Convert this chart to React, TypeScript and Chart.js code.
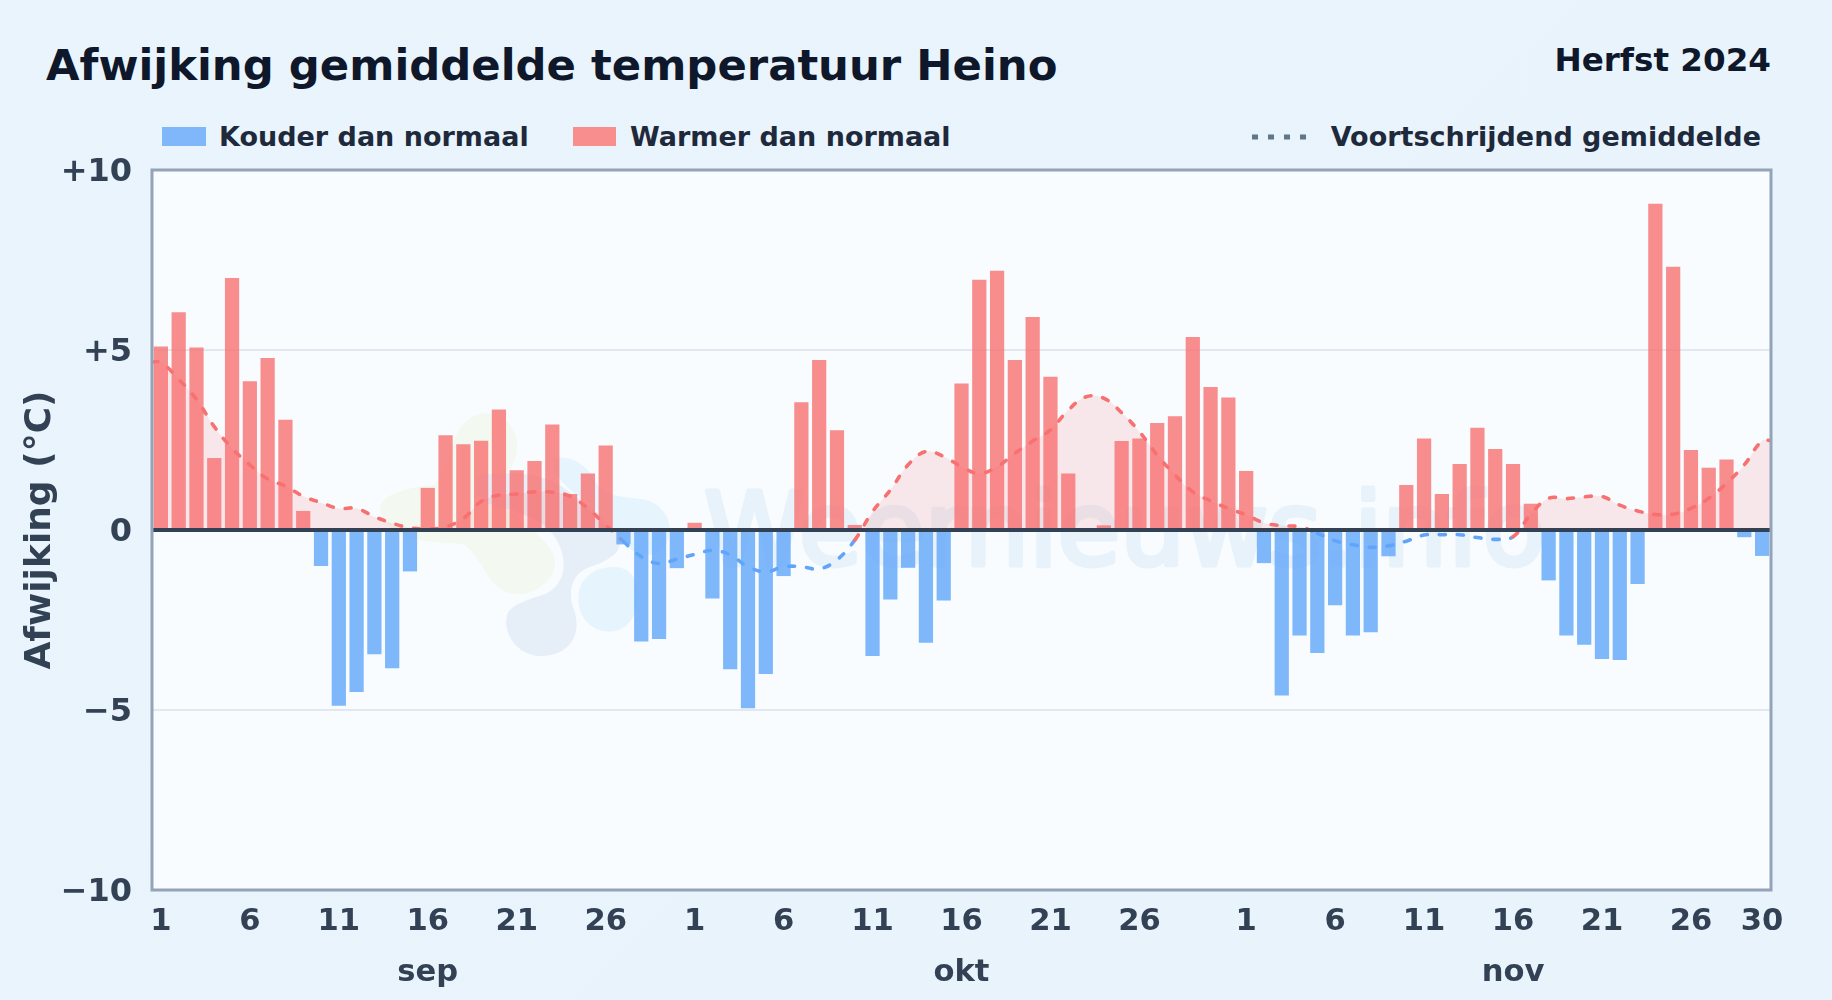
import React, { useEffect, useRef } from "react";
import { Chart, registerables } from "chart.js";

Chart.register(...registerables);

const FONT = '"DejaVu Sans", sans-serif';

const septemberDeviation = [5.1, 6.05, 5.07, 2.0, 7.0, 4.13, 4.78, 3.06, 0.53, -1.0, -4.88, -4.5, -3.45, -3.84, -1.15, 1.17, 2.63, 2.38, 2.48, 3.35, 1.66, 1.92, 2.93, 1.0, 1.57, 2.35, -0.4, -3.1, -3.03, -1.06];
const octoberDeviation = [0.2, -1.9, -3.87, -4.95, -4.0, -1.28, 3.55, 4.72, 2.77, 0.14, -3.5, -1.93, -1.05, -3.13, -1.96, 4.07, 6.95, 7.2, 4.72, 5.92, 4.26, 1.57, 0, 0.13, 2.47, 2.54, 2.97, 3.16, 5.36, 3.97, 3.68];
const novemberDeviation = [1.64, -0.92, -4.6, -2.93, -3.42, -2.09, -2.93, -2.84, -0.73, 1.25, 2.54, 1.0, 1.83, 2.84, 2.25, 1.83, 0.73, -1.4, -2.93, -3.19, -3.58, -3.61, -1.5, 9.06, 7.31, 2.22, 1.73, 1.96, -0.2, -0.72];

const movingAverage = [
  4.66, 4.19, 3.63, 2.87, 2.27, 1.81, 1.42, 1.22, 0.94, 0.76, 0.6, 0.6, 0.37, 0.19, 0.06, 0.03, 0.09, 0.32, 0.79, 0.97, 1.0, 1.06, 1.05, 0.94, 0.6, 0.14, -0.32, -0.74, -0.93, -0.81,
  -0.68, -0.57, -0.69, -1.02, -1.16, -1.02, -1.02, -1.08, -0.83, -0.28, 0.51, 1.11, 1.81, 2.18, 2.04, 1.76, 1.57, 1.76, 2.13, 2.47, 2.78, 3.33, 3.7, 3.66, 3.26, 2.73, 2.08, 1.53, 1.06, 0.81, 0.6,
  0.42, 0.2, 0.12, 0.09, -0.09, -0.3, -0.41, -0.48, -0.44, -0.31, -0.14, -0.13, -0.13, -0.21, -0.26, -0.19, 0.44, 0.88, 0.87, 0.92, 0.93, 0.69, 0.53, 0.43, 0.44, 0.6, 0.88, 1.3, 1.81, 2.48,
];

const monthNames = ["sep", "okt", "nov"];
const monthLengths = [30, 31, 30];
const shownDays = [1, 6, 11, 16, 21, 26];
const yTickLabels: Record<string, string> = { "10": "+10", "5": "+5", "0": "0", "-5": "\u22125", "-10": "\u221210" };

const deviation = [...septemberDeviation, ...octoberDeviation, ...novemberDeviation];
const dayLabels: { day: number; month: number }[] = [];
monthLengths.forEach((len, m) => {
  for (let d = 1; d <= len; d++) dayLabels.push({ day: d, month: m });
});
const categories = dayLabels.map((d) => `${d.day} ${monthNames[d.month]}`);
const colder = deviation.map((v) => (v < 0 ? v : null));
const warmer = deviation.map((v) => (v >= 0 ? v : null));
const avgPoints = [
  { x: -0.5, y: movingAverage[0] },
  ...movingAverage.map((y, x) => ({ x, y })),
  { x: 90.5, y: movingAverage[movingAverage.length - 1] },
];

const RED_LINE = "#f87171";
const BLUE_LINE = "#60a5fa";

function blob(ctx: CanvasRenderingContext2D, d: string, color: string) {
  ctx.fillStyle = color;
  ctx.fill(new Path2D(d));
}

const decorPlugin = {
  id: "decor",
  beforeDraw(chart: any) {
    const { ctx, chartArea: a } = chart;
    ctx.save();
    ctx.fillStyle = "#f8fcff";
    ctx.fillRect(a.left, a.top, a.right - a.left, a.bottom - a.top);
    ctx.restore();
  },
  beforeDatasetsDraw(chart: any) {
    const { ctx } = chart;
    ctx.save();
    ctx.translate(370, 400);
    ctx.scale(1 / 3, 1 / 3);
    blob(ctx, "M30,320 C40,280 120,262 190,255 C250,230 225,70 330,42 C410,30 450,100 440,150 C435,210 390,235 380,270 C385,340 540,400 555,480 C560,540 490,590 430,582 C350,570 340,470 280,432 C200,425 40,430 30,320 Z", "#f3f8f0");
    blob(ctx, "M330,225 C420,215 520,215 590,270 C650,310 740,370 750,420 C755,470 690,490 650,505 C600,530 595,580 612,630 C640,710 590,770 510,768 C440,765 400,700 410,650 C420,610 480,600 530,580 C590,550 590,480 565,430 C530,350 420,330 350,310 C320,290 310,240 330,225 Z", "#e6eff8");
    blob(ctx, "M550,175 C600,165 650,190 680,250 C700,295 780,290 830,300 C890,320 915,380 890,430 C865,480 800,470 775,440 C740,395 700,340 640,300 C590,265 540,220 550,175 Z M680,510 C740,490 790,500 800,560 C810,640 780,690 720,695 C660,695 625,650 625,595 C625,550 650,525 680,510 Z", "#e6f4fd");
    ctx.restore();
    ctx.save();
    ctx.font = `102px ${FONT}`;
    ctx.textBaseline = "alphabetic";
    ctx.fillStyle = "#e8f2fa";
    ctx.strokeStyle = "#e8f2fa";
    ctx.lineWidth = 5;
    ctx.lineJoin = "round";
    ctx.strokeText("Weernieuws.info", 704, 565);
    ctx.fillText("Weernieuws.info", 704, 565);
    ctx.restore();
  },
  afterDatasetsDraw(chart: any) {
    const { ctx, chartArea: a, scales } = chart;
    const y0 = scales.y.getPixelForValue(0);
    ctx.save();
    ctx.strokeStyle = "#334155";
    ctx.lineWidth = 4;
    ctx.beginPath();
    ctx.moveTo(a.left, y0);
    ctx.lineTo(a.right, y0);
    ctx.stroke();
    ctx.strokeStyle = "#94a3b8";
    ctx.lineWidth = 3;
    ctx.strokeRect(a.left, a.top, a.right - a.left, a.bottom - a.top);
    ctx.restore();
  },
};

const textStyle = (extra: React.CSSProperties): React.CSSProperties => ({
  position: "absolute",
  fontFamily: FONT,
  fontWeight: 700,
  whiteSpace: "nowrap",
  lineHeight: 1,
  ...extra,
});

export default function App() {
  const canvasRef = useRef<HTMLCanvasElement>(null);

  useEffect(() => {
    document.body.style.margin = "0";
    const chart = new Chart(canvasRef.current!, {
      type: "bar",
      data: {
        labels: categories,
        datasets: [
          {
            type: "bar",
            label: "Kouder dan normaal",
            data: colder,
            backgroundColor: "rgba(96,165,250,0.8)",
            barPercentage: 0.8,
            categoryPercentage: 1,
            grouped: false,
            order: 1,
          },
          {
            type: "bar",
            label: "Warmer dan normaal",
            data: warmer,
            backgroundColor: "rgba(248,113,113,0.8)",
            barPercentage: 0.8,
            categoryPercentage: 1,
            grouped: false,
            order: 1,
          },
          {
            type: "line",
            label: "Voortschrijdend gemiddelde",
            data: avgPoints,
            xAxisID: "xLine",
            parsing: false,
            borderColor: RED_LINE,
            borderWidth: 3.6,
            borderDash: [6, 12],
            borderCapStyle: "round",
            pointRadius: 0,
            tension: 0.4,
            fill: { target: "origin", above: "rgba(248,113,113,0.15)", below: "rgba(0,0,0,0)" },
            segment: {
              borderColor: (c: any) => (c.p0.parsed.y >= 0 || c.p1.parsed.y >= 0 ? RED_LINE : BLUE_LINE),
            },
            order: 2,
          },
        ] as any,
      },
      options: {
        responsive: false,
        animation: false,
        devicePixelRatio: 1,
        layout: { padding: { left: 0, top: 170, right: 61, bottom: 0 } },
        plugins: { legend: { display: false }, tooltip: { enabled: false } },
        scales: {
          x: {
            offset: true,
            grid: { display: false, drawTicks: false },
            border: { display: false },
            afterFit: (s: any) => {
              s.height = 110;
            },
            ticks: {
              autoSkip: false,
              maxRotation: 0,
              minRotation: 0,
              padding: 6,
              color: "#334155",
              font: { family: FONT, weight: "bold", size: 30.6, lineHeight: 1.68 },
              callback: (_v: any, i: number) => {
                const d = dayLabels[i];
                if (i === dayLabels.length - 1) return String(d.day);
                if (!shownDays.includes(d.day)) return "";
                return d.day === 16 ? [String(d.day), monthNames[d.month]] : String(d.day);
              },
            },
          },
          xLine: { type: "linear", display: false, min: -0.5, max: 90.5, offset: false },
          y: {
            min: -10,
            max: 10,
            afterFit: (s: any) => {
              s.width = 152;
            },
            afterBuildTicks: (s: any) => {
              s.ticks = [-10, -5, 0, 5, 10].map((value) => ({ value }));
            },
            grid: { color: "#e2e8f0", lineWidth: 2, drawTicks: false },
            border: { display: false },
            title: {
              display: true,
              text: "Afwijking (\u00b0C)",
              color: "#334155",
              font: { family: FONT, weight: "bold", size: 36 },
              padding: { top: 19, bottom: 0 },
            },
            ticks: {
              padding: 20,
              labelOffset: 3,
              color: "#334155",
              font: { family: FONT, weight: "bold", size: 32 },
              callback: (v: any) => yTickLabels[String(v)] ?? "",
            },
          },
        },
      } as any,
      plugins: [decorPlugin],
    });
    return () => chart.destroy();
  }, []);

  return (
    <div
      style={{
        position: "relative",
        width: 1832,
        height: 1000,
        overflow: "hidden",
        background: "linear-gradient(135deg,#e9f4fd 0%,#e8f3fc 100%)",
      }}
    >
      <div style={textStyle({ left: 46, top: 44, fontSize: 43.35, color: "#0f172a" })}>Afwijking gemiddelde temperatuur Heino</div>
      <div style={textStyle({ right: 61, top: 44, fontSize: 32.6, color: "#0f172a" })}>Herfst 2024</div>

      <div style={{ position: "absolute", left: 162, top: 127, width: 44, height: 19, background: "#80b7fb" }} />
      <div style={textStyle({ left: 219, top: 123, fontSize: 27, color: "#1e293b" })}>Kouder dan normaal</div>
      <div style={{ position: "absolute", left: 573, top: 127, width: 43, height: 19, background: "#f98e8e" }} />
      <div style={textStyle({ left: 630, top: 123, fontSize: 27, color: "#1e293b" })}>Warmer dan normaal</div>
      <svg style={{ position: "absolute", left: 1250, top: 130 }} width={60} height={14}>
        <line x1={2} x2={60} y1={7} y2={7} stroke="#64748b" strokeWidth={5} strokeDasharray="6 10" />
      </svg>
      <div style={textStyle({ right: 71, top: 123, fontSize: 27, color: "#1e293b" })}>Voortschrijdend gemiddelde</div>

      <canvas ref={canvasRef} width={1832} height={1000} style={{ position: "absolute", left: 0, top: 0, display: "block" }} />
    </div>
  );
}
